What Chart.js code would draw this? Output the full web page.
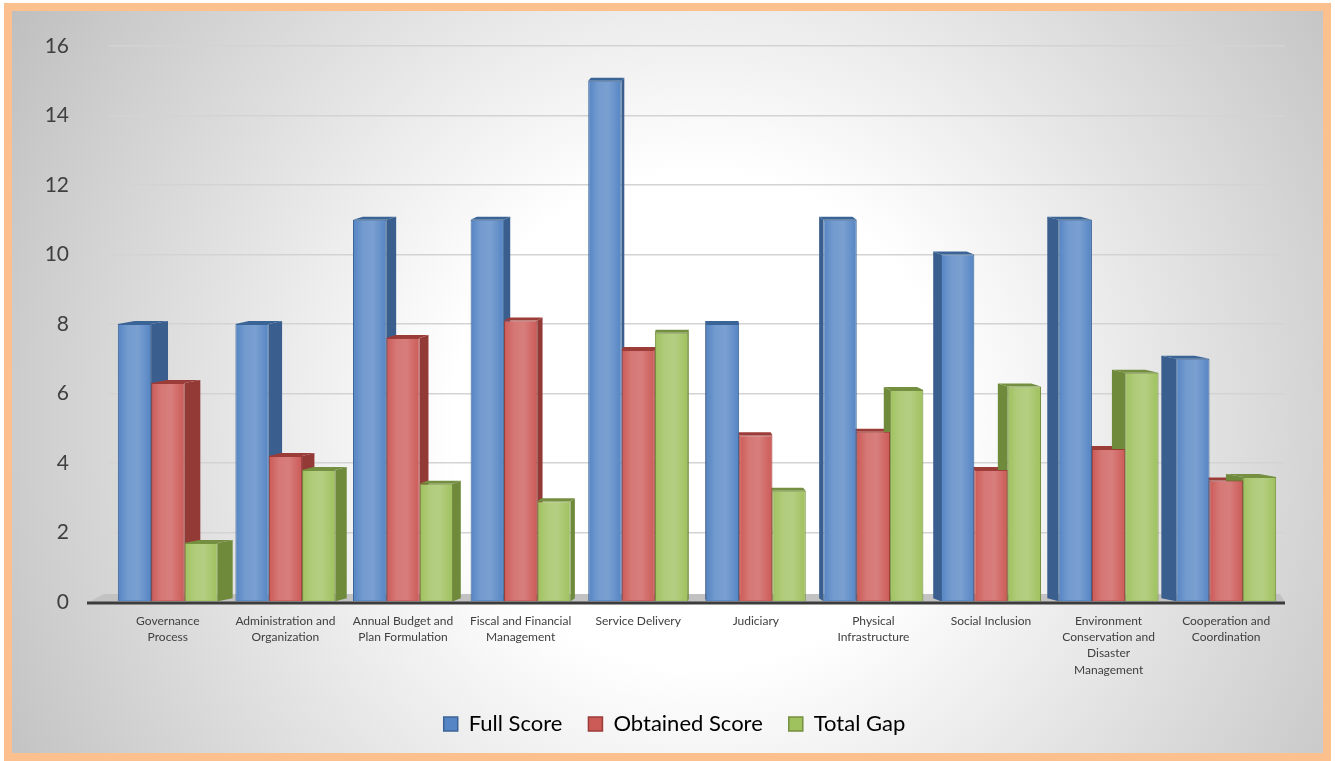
<!DOCTYPE html>
<html>
<head>
<meta charset="utf-8">
<script src="https://cdn.jsdelivr.net/npm/chart.js@4"></script>
<style>
  html, body { margin: 0; padding: 0; background: #ffffff; }
  #wrap { position: relative; width: 1335px; height: 761px; }
</style>
</head>
<body>
<div id="wrap"><canvas id="scoreChart" width="1335" height="761"></canvas></div>
<script>
// Categories and values
const categories = [
  ["Governance", "Process"],
  ["Administration and", "Organization"],
  ["Annual Budget and", "Plan Formulation"],
  ["Fiscal and Financial", "Management"],
  ["Service Delivery"],
  ["Judiciary"],
  ["Physical", "Infrastructure"],
  ["Social Inclusion"],
  ["Environment", "Conservation and", "Disaster", "Management"],
  ["Cooperation and", "Coordination"]
];
const fullScore     = [8, 8, 11, 11, 15, 8, 11, 10, 11, 7];
const obtainedScore = [6.3, 4.2, 7.6, 8.1, 7.25, 4.8, 4.9, 3.8, 4.4, 3.5];
const totalGap      = [1.7, 3.8, 3.4, 2.9, 7.75, 3.2, 6.1, 6.2, 6.6, 3.6];
const yTicks = [0, 2, 4, 6, 8, 10, 12, 14, 16];

// Couleurs : face avant, cote, bordure
const faceColors = ["#5585c4", "#cc5a57", "#9fc15e"];
const sideColors = ["#3a5f8e", "#933a37", "#6f8a3b"];
const lineColors = ["#3b6496", "#9b3c39", "#748f3f"];

// Fond degrade + cadre orange, et legende un peu decalee a droite
const backgroundPlugin = {
  id: "background",
  beforeDraw(chart) {
    const ctx = chart.ctx;
    const w = chart.width, h = chart.height;
    ctx.save();
    ctx.fillStyle = "#ffffff";
    ctx.fillRect(0, 0, w, h);
    const g = ctx.createRadialGradient(700, 420, 0, 700, 420, 820);
    g.addColorStop(0, "#ffffff");
    g.addColorStop(0.3, "#ffffff");
    g.addColorStop(1, "#bdbdbd");
    ctx.fillStyle = g;
    ctx.fillRect(8, 7, w - 16, h - 11);
    ctx.strokeStyle = "#fbc08e";
    ctx.lineWidth = 8;
    ctx.strokeRect(8, 7, w - 16, h - 11);
    ctx.restore();

    const lg = chart.legend;
    if (lg) {
      const c = w / 2 + 7;
      const half = (lg.right - lg.left) / 2;
      lg.left = c - half;
      lg.right = c + half;
    }
  }
};

// Effet 3D : sol, cotes et dessus des barres (dessine avant les faces avant)
const depthPlugin = {
  id: "depth",
  beforeDatasetsDraw(chart) {
    const ctx = chart.ctx;
    const area = chart.chartArea;
    const cx = (area.left + area.right) / 2;
    const k = 0.03, dy = -3;
    ctx.save();
    // sol gris
    ctx.fillStyle = "#c2c2c2";
    ctx.beginPath();
    ctx.moveTo(area.left - 20, area.bottom);
    ctx.lineTo(area.left - 5, area.bottom - 8);
    ctx.lineTo(area.right - 5, area.bottom - 8);
    ctx.lineTo(area.right, area.bottom);
    ctx.closePath();
    ctx.fill();

    chart.data.datasets.forEach((ds, di) => {
      const meta = chart.getDatasetMeta(di);
      meta.data.forEach(bar => {
        const p = bar.getProps(["x", "y", "base", "width"], true);
        const left = p.x - p.width / 2, right = p.x + p.width / 2;
        const dx = (cx - p.x) * k;
        const edge = dx > 0 ? right : left;
        ctx.fillStyle = sideColors[di];
        ctx.beginPath();
        ctx.moveTo(edge, p.y);
        ctx.lineTo(edge + dx, p.y + dy);
        ctx.lineTo(edge + dx, p.base - 3);
        ctx.lineTo(edge, p.base);
        ctx.closePath();
        ctx.fill();
        // dessus
        ctx.fillStyle = lineColors[di];
        ctx.beginPath();
        ctx.moveTo(left, p.y);
        ctx.lineTo(left + dx, p.y + dy);
        ctx.lineTo(right + dx, p.y + dy);
        ctx.lineTo(right, p.y);
        ctx.closePath();
        ctx.fill();
      });
    });
    ctx.restore();
  },
  afterDatasetsDraw(chart) {
    const ctx = chart.ctx;
    const area = chart.chartArea;
    ctx.save();
    // reflet sur les faces avant
    chart.data.datasets.forEach((ds, di) => {
      chart.getDatasetMeta(di).data.forEach(bar => {
        const p = bar.getProps(["x", "y", "base", "width"], true);
        const left = p.x - p.width / 2;
        const g = ctx.createLinearGradient(left, 0, left + p.width, 0);
        g.addColorStop(0, "rgba(255,255,255,0)");
        g.addColorStop(0.3, "rgba(255,255,255,0.18)");
        g.addColorStop(0.6, "rgba(255,255,255,0.22)");
        g.addColorStop(1, "rgba(255,255,255,0)");
        ctx.fillStyle = g;
        ctx.fillRect(left + 1, p.y + 1, p.width - 2, p.base - p.y - 2);
      });
    });
    // ligne d'axe
    ctx.strokeStyle = "#3c3c3c";
    ctx.lineWidth = 3;
    ctx.beginPath();
    ctx.moveTo(area.left - 22, area.bottom + 1);
    ctx.lineTo(area.right, area.bottom + 1);
    ctx.stroke();
    ctx.restore();
  }
};

const ctx = document.getElementById("scoreChart").getContext("2d");
const names = ["Full Score", "Obtained Score", "Total Gap"];
const series = [fullScore, obtainedScore, totalGap];

new Chart(ctx, {
  type: "bar",
  data: {
    labels: categories,
    datasets: series.map((values, i) => ({
      label: names[i],
      data: values,
      backgroundColor: faceColors[i],
      borderColor: lineColors[i],
      borderWidth: 1,
      categoryPercentage: 0.85,
      barPercentage: 1.0
    }))
  },
  options: {
    responsive: false,
    animation: false,
    layout: { padding: { top: 46, right: 50, bottom: 16, left: 0 } },
    scales: {
      x: {
        grid: { display: false },
        border: { display: false },
        ticks: {
          color: "#404040",
          font: { family: "Lato", size: 12, lineHeight: 1.35 },
          maxRotation: 0,
          autoSkip: false,
          padding: 3
        },
        afterFit(scale) { scale.height = 85; }
      },
      y: {
        min: 0,
        max: 16,
        afterBuildTicks(scale) { scale.ticks = yTicks.map(v => ({ value: v })); },
        grid: { color: "#d3d3d3", lineWidth: 1.5, drawTicks: false },
        border: { display: false },
        ticks: {
          color: "#404040",
          font: { family: "Lato", size: 21 },
          padding: 40
        },
        afterFit(scale) {
          scale.width = 109;
          scale.paddingTop = 12;
          scale.paddingBottom = 12;
        }
      }
    },
    plugins: {
      legend: {
        position: "bottom",
        labels: {
          color: "#404040",
          font: { family: "Lato", size: 22 },
          boxWidth: 14,
          boxHeight: 14,
          padding: 26,
          generateLabels(chart) {
            return chart.data.datasets.map((ds, i) => ({
              text: ds.label,
              fillStyle: faceColors[i],
              strokeStyle: lineColors[i],
              lineWidth: 1.5,
              datasetIndex: i
            }));
          }
        }
      },
      tooltip: { enabled: false }
    }
  },
  plugins: [backgroundPlugin, depthPlugin]
});
</script>
</body>
</html>
